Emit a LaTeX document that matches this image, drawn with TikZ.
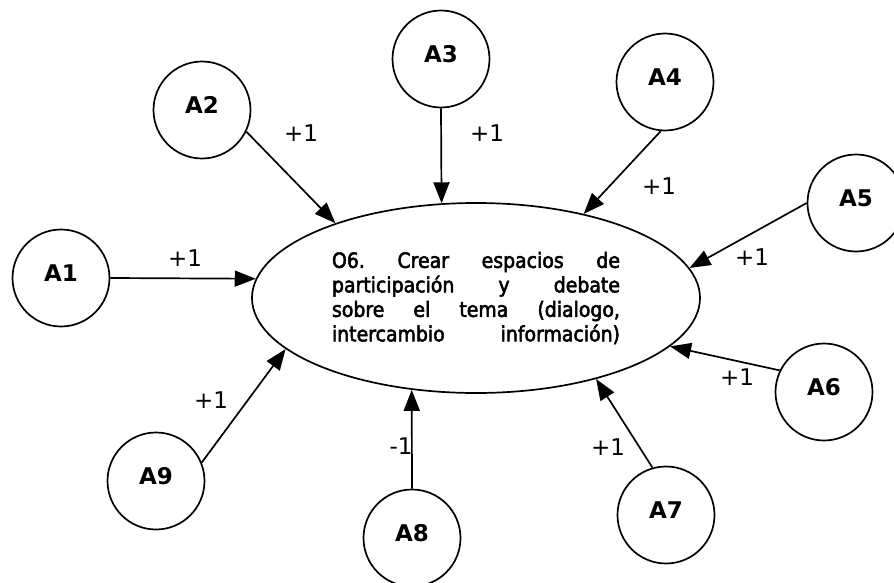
\documentclass[tikz,border=0pt]{standalone}
\usepackage{fontspec}
\setmainfont{DejaVu Sans}
\newfontfamily\goalfont{DejaVu Sans Condensed}[FakeBold=2.5,
  BoldFont={DejaVu Sans Condensed},BoldFeatures={FakeBold=2.5}]
\usetikzlibrary{shapes.geometric,arrows.meta}
\begin{document}
\begin{tikzpicture}[x=1pt,y=-1pt,
  actor/.style={circle,draw,line width=1.7pt,minimum size=97pt,inner sep=0pt,
    text depth=10pt,font=\bfseries\fontsize{23}{25}\selectfont},
  goal/.style={ellipse,draw,line width=1.7pt,minimum width=448pt,minimum height=190pt,
    inner sep=0pt,align=center,
    font=\goalfont\bfseries\frenchspacing\fontsize{21}{24.5}\selectfont},
  link/.style={line width=1.7pt,-{Triangle[length=21pt,width=16pt]}},
  weight/.style={font=\fontsize{23}{25}\selectfont,inner sep=0pt}]
\useasboundingbox (0,0) rectangle (894,583);
\fill[white] (0,0) rectangle (894,583);

% central objective
\node[goal] (O6) at (476,298) {%
  \makebox[288pt][s]{O6. Crear espacios de}\\
  \makebox[288pt][s]{participación y debate}\\
  \makebox[288pt][s]{sobre el tema (dialogo,}\\
  \makebox[288pt][s]{intercambio información)}};

% actions
\node[actor] (A1) at (61,278)  {A1};
\node[actor] (A2) at (202,110) {A2};
\node[actor] (A3) at (441,59)  {A3};
\node[actor] (A4) at (665,82)  {A4};
\node[actor] (A5) at (856,203) {A5};
\node[actor] (A6) at (824,392) {A6};
\node[actor] (A7) at (666,515) {A7};
\node[actor] (A8) at (412,538) {A8};
\node[actor] (A9) at (156,481) {A9};

% influences on the objective
\draw[link] (A1.east) -- (O6.175);
\draw[link] (A2.-26)  -- (O6.152);
\draw[link] (A3.south) -- (O6.110.5);
\draw[link] (A4.-95)  -- (O6.38);
\draw[link] (A5.west) -- (O6.8);
\draw[link] (A6.154)  -- (O6.-14.6);
\draw[link] (A7.106)  -- (O6.-34);
\draw[link] (A8.north) -- (O6.-125);
\draw[link] (A9.22)   -- (O6.-165);

% weights
\node[weight] (w1) at (185,258) {+1};
\node[weight] (w2) at (301,133) {+1};
\node[weight] (w3) at (487,133) {+1};
\node[weight] (w4) at (659,186) {+1};
\node[weight] (w5) at (752,257) {+1};
\node[weight] (w6) at (737,377) {+1};
\node[weight] (w7) at (608,447) {+1};
\node[weight] (w8) at (401,446) {-1};
\node[weight] (w9) at (211,400) {+1};
\end{tikzpicture}
\end{document}
